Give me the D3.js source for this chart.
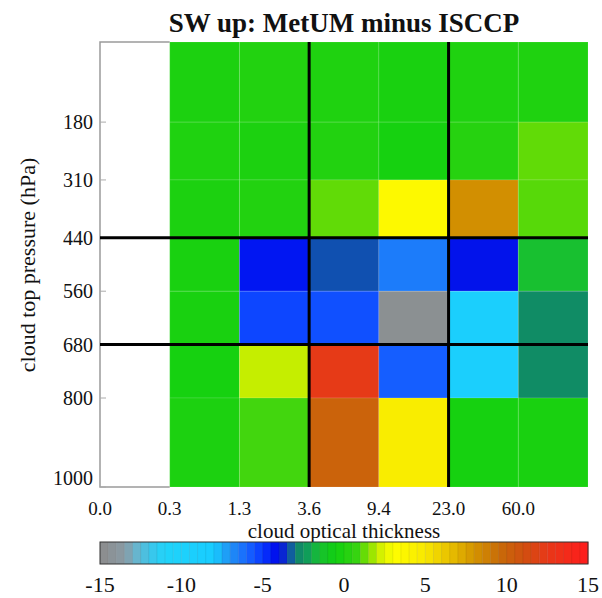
<!DOCTYPE html>
<html>
<head>
<meta charset="utf-8">
<script src="https://cdn.jsdelivr.net/npm/d3@7"></script>
<style>
  html, body { margin: 0; padding: 0; background: #fff; }
  svg { display: block; }
  text { font-family: "Liberation Serif", "Times New Roman", serif; fill: #111; }
</style>
</head>
<body>
<svg id="chart" width="602" height="598"></svg>
<script>
// ---- data ----
const title = "SW up: MetUM minus ISCCP";
const xTitle = "cloud optical thickness";
const yTitle = "cloud top pressure (hPa)";
const tauLabels = ["0.0", "0.3", "1.3", "3.6", "9.4", "23.0", "60.0"];
const pressureEdges = [0, 180, 310, 440, 560, 680, 800, 1000];
const pressureTicks = [180, 310, 440, 560, 680, 800, 1000];
const thickTauIdx = [3, 5];
const thickPressure = [440, 680];
const colorbarTicks = [-15, -10, -5, 0, 5, 10, 15];
// rows: top (low pressure) to bottom; columns: tau bins (first bin empty)
const row0 = [null, -0.1, 0.1, 0.0, -0.2, 0.0, 0.0];
const row1 = [null, 0.0, -0.1, 0.1, -0.3, 0.2, 1.2];
const row2 = [null, -0.1, 0.1, 1.2, 3.5, 8.2, 1.1];
const row3 = [null, -0.2, -4.4, -3.4, -6.5, -4.2, -1.5];
const row4 = [null, -0.2, -5.3, -5.5, -14.6, -9.0, -2.7];
const row5 = [null, -0.3, 2.1, 12.4, -5.8, -9.0, -2.7];
const row6 = [null, -0.1, 0.9, 10.0, 4.6, -0.3, -0.2];
const rows = [row0, row1, row2, row3, row4, row5, row6];
// colour table stops
const cStops = [-15, -13.5, -12.8, -12, -11, -8, -7, -6, -5, -4.3, -3.8, -3.4, -2.8, -2.2, -1.5, -0.5, 0.8, 1.5, 2.2, 3, 5, 6.5, 8, 9.5, 11, 12.5, 15];
const cColors = ["#8c8c8c", "#8a9aa4", "#6ab4cc", "#40c4e8", "#20d4fa", "#18ccff", "#2090f4", "#1868ff", "#0838ff", "#0010f0", "#0820d8", "#1050b0", "#108868", "#10a058", "#18c030", "#10d010", "#38d410", "#80e000", "#d0f000", "#ffff00", "#f8e800", "#e8c000", "#d49400", "#c86c08", "#d05010", "#e83818", "#ff1c1c"];

// ---- layout ----
const svg = d3.select("#chart");
const L = 100, R = 588, T = 42, B = 487;
const x = d3.scaleLinear().domain([0, 7]).range([L, R]);
const y = d3.scaleLinear().domain([0, 1000]).range([T, B]);
const color = d3.scaleLinear().domain(cStops).range(cColors).interpolate(d3.interpolateRgb).clamp(true);

// title
svg.append("text").attr("x", (L + R) / 2).attr("y", 32)
  .attr("text-anchor", "middle").style("font-size", "27px").style("font-weight", "bold")
  .text(title);

// cells
const cells = [];
rows.forEach((r, i) => r.forEach((v, j) => { if (v !== null) cells.push({ i, j, v }); }));
svg.append("g").selectAll("rect").data(cells).join("rect")
  .attr("x", d => x(d.j))
  .attr("y", d => y(pressureEdges[d.i]))
  .attr("width", d => x(d.j + 1) - x(d.j))
  .attr("height", d => y(pressureEdges[d.i + 1]) - y(pressureEdges[d.i]))
  .attr("fill", d => color(d.v))
  .attr("stroke", "rgba(255,255,255,0.12)")
  .attr("stroke-width", 1);

// frame (grey)
svg.append("path")
  .attr("d", `M${x(1)},${T}H${L}V${B}H${x(1)}`)
  .attr("fill", "none").attr("stroke", "#9a9a9a").attr("stroke-width", 1.5);

// minor ticks on y axis
svg.append("g").selectAll("line").data(pressureTicks).join("line")
  .attr("x1", L).attr("x2", L + 6)
  .attr("y1", d => y(d)).attr("y2", d => y(d))
  .attr("stroke", "#aaa").attr("stroke-width", 1);

// thick lines
svg.append("g").selectAll("line").data(thickTauIdx).join("line")
  .attr("x1", d => x(d)).attr("x2", d => x(d))
  .attr("y1", T).attr("y2", B)
  .attr("stroke", "#000").attr("stroke-width", 3);
svg.append("g").selectAll("line").data(thickPressure).join("line")
  .attr("x1", L).attr("x2", R)
  .attr("y1", d => y(d)).attr("y2", d => y(d))
  .attr("stroke", "#000").attr("stroke-width", 3);

// y tick labels
svg.append("g").selectAll("text").data(pressureTicks).join("text")
  .attr("x", 93)
  .attr("y", d => Math.min(y(d), 478))
  .attr("dy", "0.35em")
  .attr("text-anchor", "end")
  .style("font-size", "20px")
  .text(d => d);

// x tick labels
svg.append("g").selectAll("text").data(tauLabels).join("text")
  .attr("x", (d, i) => x(i))
  .attr("y", 515)
  .attr("text-anchor", "middle")
  .style("font-size", "19px")
  .text(d => d);

// axis titles
svg.append("text").attr("x", (L + R) / 2).attr("y", 538)
  .attr("text-anchor", "middle").style("font-size", "21px").text(xTitle);
svg.append("text").attr("transform", "translate(35,265) rotate(-90)")
  .attr("text-anchor", "middle").style("font-size", "22px").text(yTitle);

// colour bar
const cb = d3.scaleLinear().domain([-15, 15]).range([L, R]);
const bands = d3.range(-15, 15, 0.5);
const cbT = 542, cbB = 564;
svg.append("g").selectAll("rect").data(bands).join("rect")
  .attr("x", d => cb(d))
  .attr("y", cbT)
  .attr("width", d => cb(d + 0.5) - cb(d) + 0.3)
  .attr("height", cbB - cbT)
  .attr("fill", d => color(d + 0.25));
svg.append("g").selectAll("line").data(bands.slice(1)).join("line")
  .attr("x1", d => cb(d)).attr("x2", d => cb(d))
  .attr("y1", cbT).attr("y2", cbB)
  .attr("stroke", "rgba(0,0,0,0.08)").attr("stroke-width", 1);
svg.append("rect").attr("x", L).attr("y", cbT).attr("width", R - L).attr("height", cbB - cbT)
  .attr("fill", "none").attr("stroke", "#333").attr("stroke-width", 1);
svg.append("g").selectAll("text").data(colorbarTicks).join("text")
  .attr("x", d => cb(d)).attr("y", 592)
  .attr("text-anchor", "middle").style("font-size", "22px")
  .text(d => d);
</script>
</body>
</html>
